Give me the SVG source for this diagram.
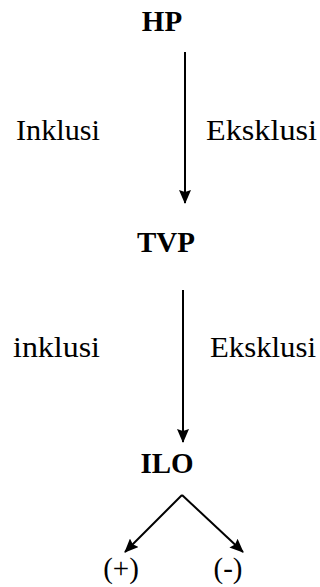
<svg xmlns="http://www.w3.org/2000/svg" width="320" height="587" viewBox="0 0 320 587">
<style>
text{font-family:'Liberation Serif','Times New Roman','DejaVu Serif',serif;fill:#000}
.head{font-weight:bold;font-size:29px;text-anchor:middle}
.lbl{font-size:29px}
.conn{stroke:#000;stroke-width:2;fill:none}
</style>
<defs>
<marker id="ah" viewBox="0 0 14 12" refX="13" refY="6" markerWidth="14" markerHeight="12" markerUnits="userSpaceOnUse" orient="auto">
<path d="M0,0 L14,6 L0,12 L2,6 Z" fill="#000"/>
</marker>
</defs>
<rect width="320" height="587" fill="#fff"/>
<g id="connectors">
<line class="conn" x1="185" y1="52" x2="185" y2="203" marker-end="url(#ah)"/>
<line class="conn" x1="183" y1="290" x2="183" y2="442" marker-end="url(#ah)"/>
<line class="conn" x1="182" y1="495" x2="125" y2="552" marker-end="url(#ah)"/>
<line class="conn" x1="182" y1="495" x2="243" y2="552" marker-end="url(#ah)"/>
</g>
<g id="hp"><text class="head" x="162" y="31">HP</text></g>
<g id="tvp"><text class="head" x="166" y="252">TVP</text></g>
<g id="ilo"><text class="head" x="167" y="473">ILO</text></g>
<g id="label-inklusi-1"><text class="lbl" x="16" y="140" textLength="84" lengthAdjust="spacingAndGlyphs">Inklusi</text></g>
<g id="label-eksklusi-1"><text class="lbl" x="206" y="140" textLength="111" lengthAdjust="spacingAndGlyphs">Eksklusi</text></g>
<g id="label-inklusi-2"><text class="lbl" x="13" y="357" textLength="87" lengthAdjust="spacingAndGlyphs">inklusi</text></g>
<g id="label-eksklusi-2"><text class="lbl" x="210" y="357" textLength="106" lengthAdjust="spacingAndGlyphs">Eksklusi</text></g>
<g id="plus"><text class="lbl" x="121" y="578" text-anchor="middle">(+)</text></g>
<g id="minus"><text class="lbl" x="228" y="578" text-anchor="middle">(-)</text></g>
</svg>
